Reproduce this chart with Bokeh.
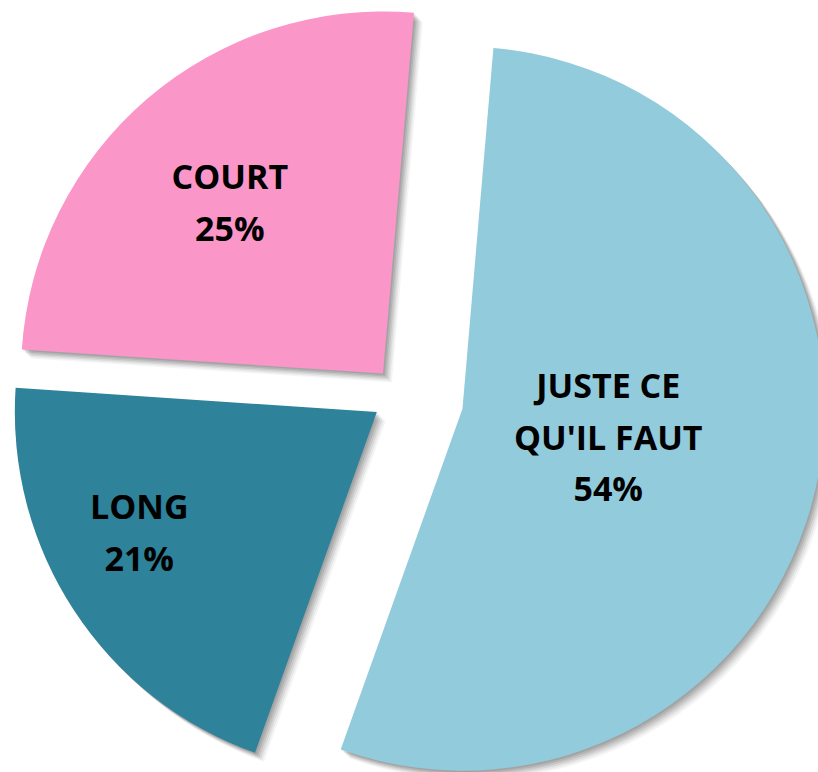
import numpy as np
from bokeh.plotting import figure
from bokeh.models import Range1d, ColumnDataSource
from bokeh.core.properties import value
from bokeh.embed import file_html
from bokeh.resources import INLINE

# ---- data ----
categories = ["JUSTE CE\nQU'IL FAUT", "LONG", "COURT"]
shares = [54.1, 20.6, 25.3]          # slice sizes
share_labels = ["54%", "21%", "25%"]
colors = ["#92CBDC", "#2E8299", "#FA96C8"]

# ---- styling / layout ----
W, H = 818, 772
start_bearing = 4.9           # degrees clockwise from 12 o'clock
radius = 362
center = (401.4, H - 395.0)   # data coords (y up)
explode = [62, 30, 29]
label_frac = [0.41, 0.735, 0.635]
label_shift = [-1.4, 6.5, -1.15]  # degrees tweak of label bearing

shares_a = np.array(shares, dtype=float)
fr = shares_a / shares_a.sum()
start_b = start_bearing + 360 * np.concatenate([[0], np.cumsum(fr)[:-1]])
end_b = start_b + 360 * fr
mid_b = (start_b + end_b) / 2

def dirv(b):
    r = np.radians(b)
    return np.sin(r), np.cos(r)

xs, ys, sa, ea, lx, ly, texts = [], [], [], [], [], [], []
for i in range(len(shares)):
    ux, uy = dirv(mid_b[i])
    ax = center[0] + explode[i] * ux
    ay = center[1] + explode[i] * uy
    xs.append(ax); ys.append(ay)
    sa.append(np.radians(90 - start_b[i]))
    ea.append(np.radians(90 - end_b[i]))
    lb = mid_b[i] + label_shift[i]
    vx, vy = dirv(lb)
    lx.append(ax + label_frac[i] * radius * vx)
    ly.append(ay + label_frac[i] * radius * vy)
    texts.append(f"{categories[i]}\n{share_labels[i]}")

src = ColumnDataSource(dict(x=xs, y=ys, sa=sa, ea=ea, color=colors,
                            lx=lx, ly=ly, text=texts))

p = figure(width=W, height=H, x_range=Range1d(0, W), y_range=Range1d(0, H),
           output_backend="svg", toolbar_location=None,
           min_border=0, min_border_left=0, min_border_right=0,
           min_border_top=0, min_border_bottom=0)
p.axis.visible = False
p.grid.visible = False
p.outline_line_color = None
p.background_fill_color = "white"
p.border_fill_color = "white"

# soft shadow (down-right)
for off, a in [(1.5, 0.09), (3, 0.09), (4.5, 0.08), (6, 0.07), (7.5, 0.05), (9, 0.04)]:
    sh = ColumnDataSource(dict(x=[v + off for v in xs], y=[v - off for v in ys], sa=sa, ea=ea))
    p.wedge(x="x", y="y", radius=radius, start_angle="sa", end_angle="ea",
            direction="clock", source=sh, fill_color="black", fill_alpha=a,
            line_color=None)

p.wedge(x="x", y="y", radius=radius, start_angle="sa", end_angle="ea",
        direction="clock", source=src, fill_color="color", line_color=None)

p.text(x="lx", y="ly", text="text", source=src,
       text_font=value("Open Sans"), text_font_style="bold",
       text_font_size="34px", text_align="center", text_baseline="middle",
       text_line_height=1.12, text_color="black")

open("out.html", "w").write(file_html(p, INLINE))
